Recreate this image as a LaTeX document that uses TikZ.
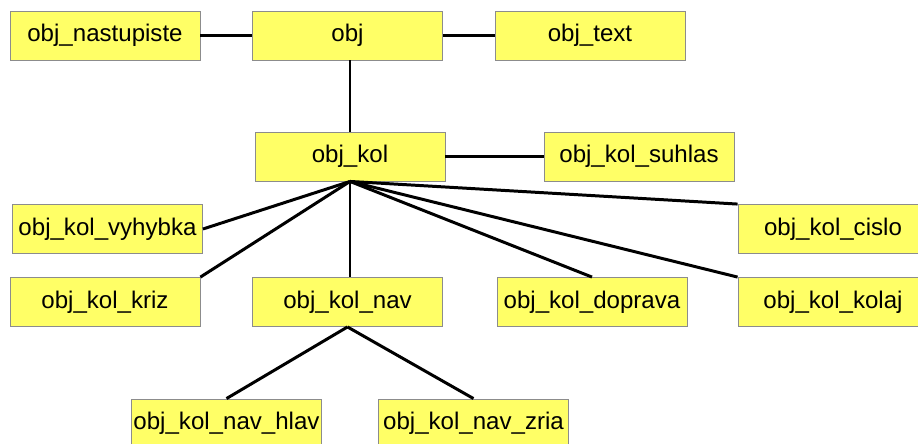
\documentclass[tikz,border=0pt]{standalone}
\usepackage{fontspec}
\setmainfont{Liberation Sans}
\usetikzlibrary{arrows.meta}

\definecolor{boxfill}{RGB}{255,255,102}
\definecolor{boxline}{RGB}{140,140,140}

\begin{document}
\begin{tikzpicture}[auto, node distance=4.85cm,
    box/.style={draw=boxline, line width=0.5pt, fill=boxfill, minimum width=3.8cm,
        minimum height=0.98cm, inner sep=0pt, font=\fontsize{13.7}{16}\selectfont},
    link/.style={line width=1.7pt}]

    \useasboundingbox (-6.95,0.71) rectangle (11.41,-8.15);

    % Nodes
    \node[box] (obj) {obj};
    \node[box] (nastupiste) [left of=obj] {obj\_nastupiste};
    \node[box] (text) [right of=obj] {obj\_text};
    \node[box] (kol) [below of=obj, node distance=2.42cm, xshift=0.05cm] {obj\_kol};
    \node[box] (suhlas) [right of=kol, node distance=5.78cm] {obj\_kol\_suhlas};
    \node[box] (nav) [below of=obj, node distance=5.33cm] {obj\_kol\_nav};
    \node[box] (kriz) [left of=nav] {obj\_kol\_kriz};
    \node[box] (doprava) [right of=nav, node distance=4.89cm] {obj\_kol\_doprava};
    \node[box] (kolaj) [right of=doprava, node distance=4.82cm] {obj\_kol\_kolaj};
    \node[box] (vyhybka) [above of=kriz, node distance=1.46cm, xshift=0.05cm] {obj\_kol\_vyhybka};
    \node[box] (cislo) [above of=kolaj, node distance=1.46cm] {obj\_kol\_cislo};
    \node[box] (hlav) [below of=nav, node distance=2.43cm, xshift=-2.42cm] {obj\_kol\_nav\_hlav};
    \node[box] (zria) [below of=nav, node distance=2.43cm, xshift=2.52cm] {obj\_kol\_nav\_zria};

    % Links
    \draw[link] (nastupiste) -- (obj);
    \draw[link] (obj) -- (text);
    \draw[link] (obj.south -| kol) -- (kol);
    \draw[link] (kol) -- (suhlas);
    \draw[link] (kol.south) -- (vyhybka.east);
    \draw[link] (kol.south) -- (kriz.north east);
    \draw[link] (kol.south) -- (nav.north -| kol.south);
    \draw[link] (kol.south) -- (doprava.north);
    \draw[link] (kol.south) -- (kolaj.north west);
    \draw[link] (kol.south) -- (cislo.north west);
    \draw[link] (nav.south) -- (hlav.north);
    \draw[link] (nav.south) -- (zria.north);
\end{tikzpicture}
\end{document}
